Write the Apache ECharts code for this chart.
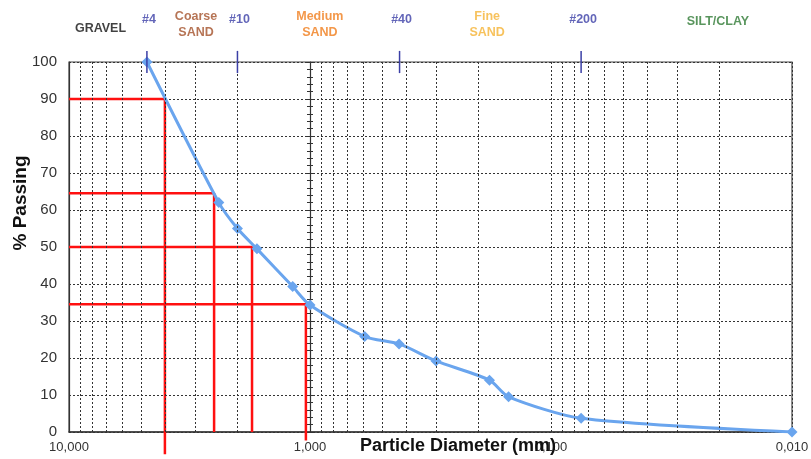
<!DOCTYPE html>
<html>
<head>
<meta charset="utf-8">
<script src="https://cdn.jsdelivr.net/npm/echarts@6/dist/echarts.min.js"></script>
<style>
  html, body { margin: 0; padding: 0; background: #fff; }
  #chart { width: 811px; height: 459px; }
</style>
</head>
<body>
<div id="chart"></div>
<script>
// particle sizes (mm) and % passing
const sizes = [4.75, 2.39, 2.0, 1.66, 1.18, 1.0, 0.593, 0.427, 0.30, 0.18, 0.15, 0.075, 0.01];
const passing = [100, 62, 55, 49.5, 39.3, 34.3, 25.8, 23.8, 19.2, 14, 9.5, 3.7, 0];

// red D-lines (D90, D65, D50, D35)
const dSizes = [4.0, 2.5, 1.74, 1.04];
const dPassing = [90, 64.5, 50, 34.5];
const dBottom = [-6, 0, 0, -2.3];

// sieve marks on the top edge
const sieveNames = ['#4', '#10', '#40', '#200'];
const sieveSizes = [4.75, 2.0, 0.425, 0.075];

// soil zones written above the plot
const zoneNames = ['GRAVEL', 'Coarse\nSAND', 'Medium\nSAND', 'Fine\nSAND', 'SILT/CLAY'];
const zoneSizes = [7.4, 2.97, 0.91, 0.184, 0.0203];
const zoneColors = ['#111111', '#a4512b', '#f07d1c', '#f5b335', '#2f7a34'];

const minorSteps = [2, 3, 4, 5, 6, 7, 8, 9];

const font = 'Arial, "Liberation Sans", sans-serif';
const blue = '#6aa5ee';

const minorLines = [];
[0.01, 0.1, 1].forEach(d => minorSteps.forEach(m => minorLines.push({ xAxis: +(d * m).toFixed(4) })));

const chart = echarts.init(document.getElementById('chart'));

const redSeries = dSizes.map((s, i) => ({
    type: 'line',
    clip: false,
    silent: true,
    symbol: 'none',
    z: 3,
    lineStyle: { color: '#ff1010', width: 2.5 },
    data: [[10, dPassing[i]], [s, dPassing[i]], [s, dBottom[i]]]
}));

const sieveSeries = sieveSizes.map(s => ({
    type: 'line',
    clip: false,
    silent: true,
    symbol: 'none',
    z: 6,
    lineStyle: { color: '#3b3fa6', width: 1.5 },
    data: [[s, 103], [s, 97]]
}));

const option = {
    animation: false,
    grid: {
        left: 69, right: 19, top: 62, bottom: 27,
        containLabel: false,
        outerBoundsMode: 'none',
        show: true, borderColor: '#444', borderWidth: 1.2
    },
    xAxis: {
        type: 'log',
        logBase: 10,
        min: 0.01,
        max: 10,
        inverse: true,
        axisLine: { lineStyle: { color: '#333', width: 1.5 } },
        axisTick: { show: false },
        axisLabel: {
            fontFamily: font, fontSize: 13, color: '#333', margin: 9,
            formatter: v => v.toFixed(3).replace('.', ',')
        },
        splitLine: { show: true, lineStyle: { color: '#333', type: [2, 2], width: 1 } }
    },
    yAxis: [{
        type: 'value',
        min: 0,
        max: 100,
        interval: 10,
        axisLine: { show: true, lineStyle: { color: '#333', width: 1.2 } },
        axisTick: { show: false },
        axisLabel: { fontFamily: font, fontSize: 15, color: '#333', margin: 12 },
        splitLine: { show: true, lineStyle: { color: '#333', type: [2, 2], width: 1 } }
    }, {
        type: 'value',
        min: 0, max: 100, interval: 2,
        position: 'left',
        offset: -241,
        axisLine: { show: true, lineStyle: { color: '#333', width: 1.2 } },
        axisTick: { show: true, inside: true, length: 3, lineStyle: { color: '#333' } },
        axisLabel: { show: false },
        splitLine: { show: false }
    }, {
        type: 'value',
        min: 0, max: 100, interval: 2,
        position: 'left',
        offset: -241,
        axisLine: { show: false },
        axisTick: { show: true, inside: false, length: 3, lineStyle: { color: '#333' } },
        axisLabel: { show: false },
        splitLine: { show: false }
    }],
    graphic: [{
        type: 'text',
        x: 21, y: 203,
        rotation: Math.PI / 2,
        style: {
            text: '% Passing', font: 'bold 19px ' + font, fill: '#111',
            textAlign: 'center', textVerticalAlign: 'middle'
        }
    }, {
        type: 'text',
        x: 458, y: 446,
        z: 10,
        style: {
            text: 'Particle Diameter (mm)', font: 'bold 18px ' + font, fill: '#111',
            textAlign: 'center', textVerticalAlign: 'middle'
        }
    }],
    series: [{
        type: 'line',
        silent: true,
        symbol: 'none',
        data: [],
        markLine: {
            silent: true,
            symbol: 'none',
            label: { show: false },
            lineStyle: { color: '#333', type: [2, 2], width: 1 },
            data: minorLines
        }
    },
    ...redSeries,
    {
        type: 'line',
        z: 4,
        smooth: 0.25,
        symbol: 'diamond',
        symbolSize: 11,
        itemStyle: { color: blue },
        lineStyle: { color: blue, width: 3 },
        data: sizes.map((s, i) => [s, passing[i]])
    },
    ...sieveSeries,
    {
        type: 'scatter',
        clip: false,
        silent: true,
        symbolSize: 0,
        z: 7,
        data: sieveSizes.map((s, i) => ({
            value: [s, 100],
            label: {
                show: true, position: 'inside', offset: [2, -42],
                formatter: sieveNames[i],
                fontFamily: font, fontWeight: 'bold', fontSize: 12.5, color: '#3b3fa6'
            }
        }))
    }, {
        type: 'scatter',
        clip: false,
        silent: true,
        symbolSize: 0,
        z: 7,
        data: zoneSizes.map((s, i) => ({
            value: [s, 100],
            label: {
                show: true, position: 'inside',
                offset: [0, i === 0 ? -33 : (i === 4 ? -40 : -37)],
                formatter: zoneNames[i],
                fontFamily: font, fontWeight: 'bold', fontSize: 12.5, lineHeight: 16,
                color: zoneColors[i], align: 'center'
            }
        }))
    }]
};

chart.setOption(option);
window.addEventListener('resize', () => chart.resize());
</script>
</body>
</html>
